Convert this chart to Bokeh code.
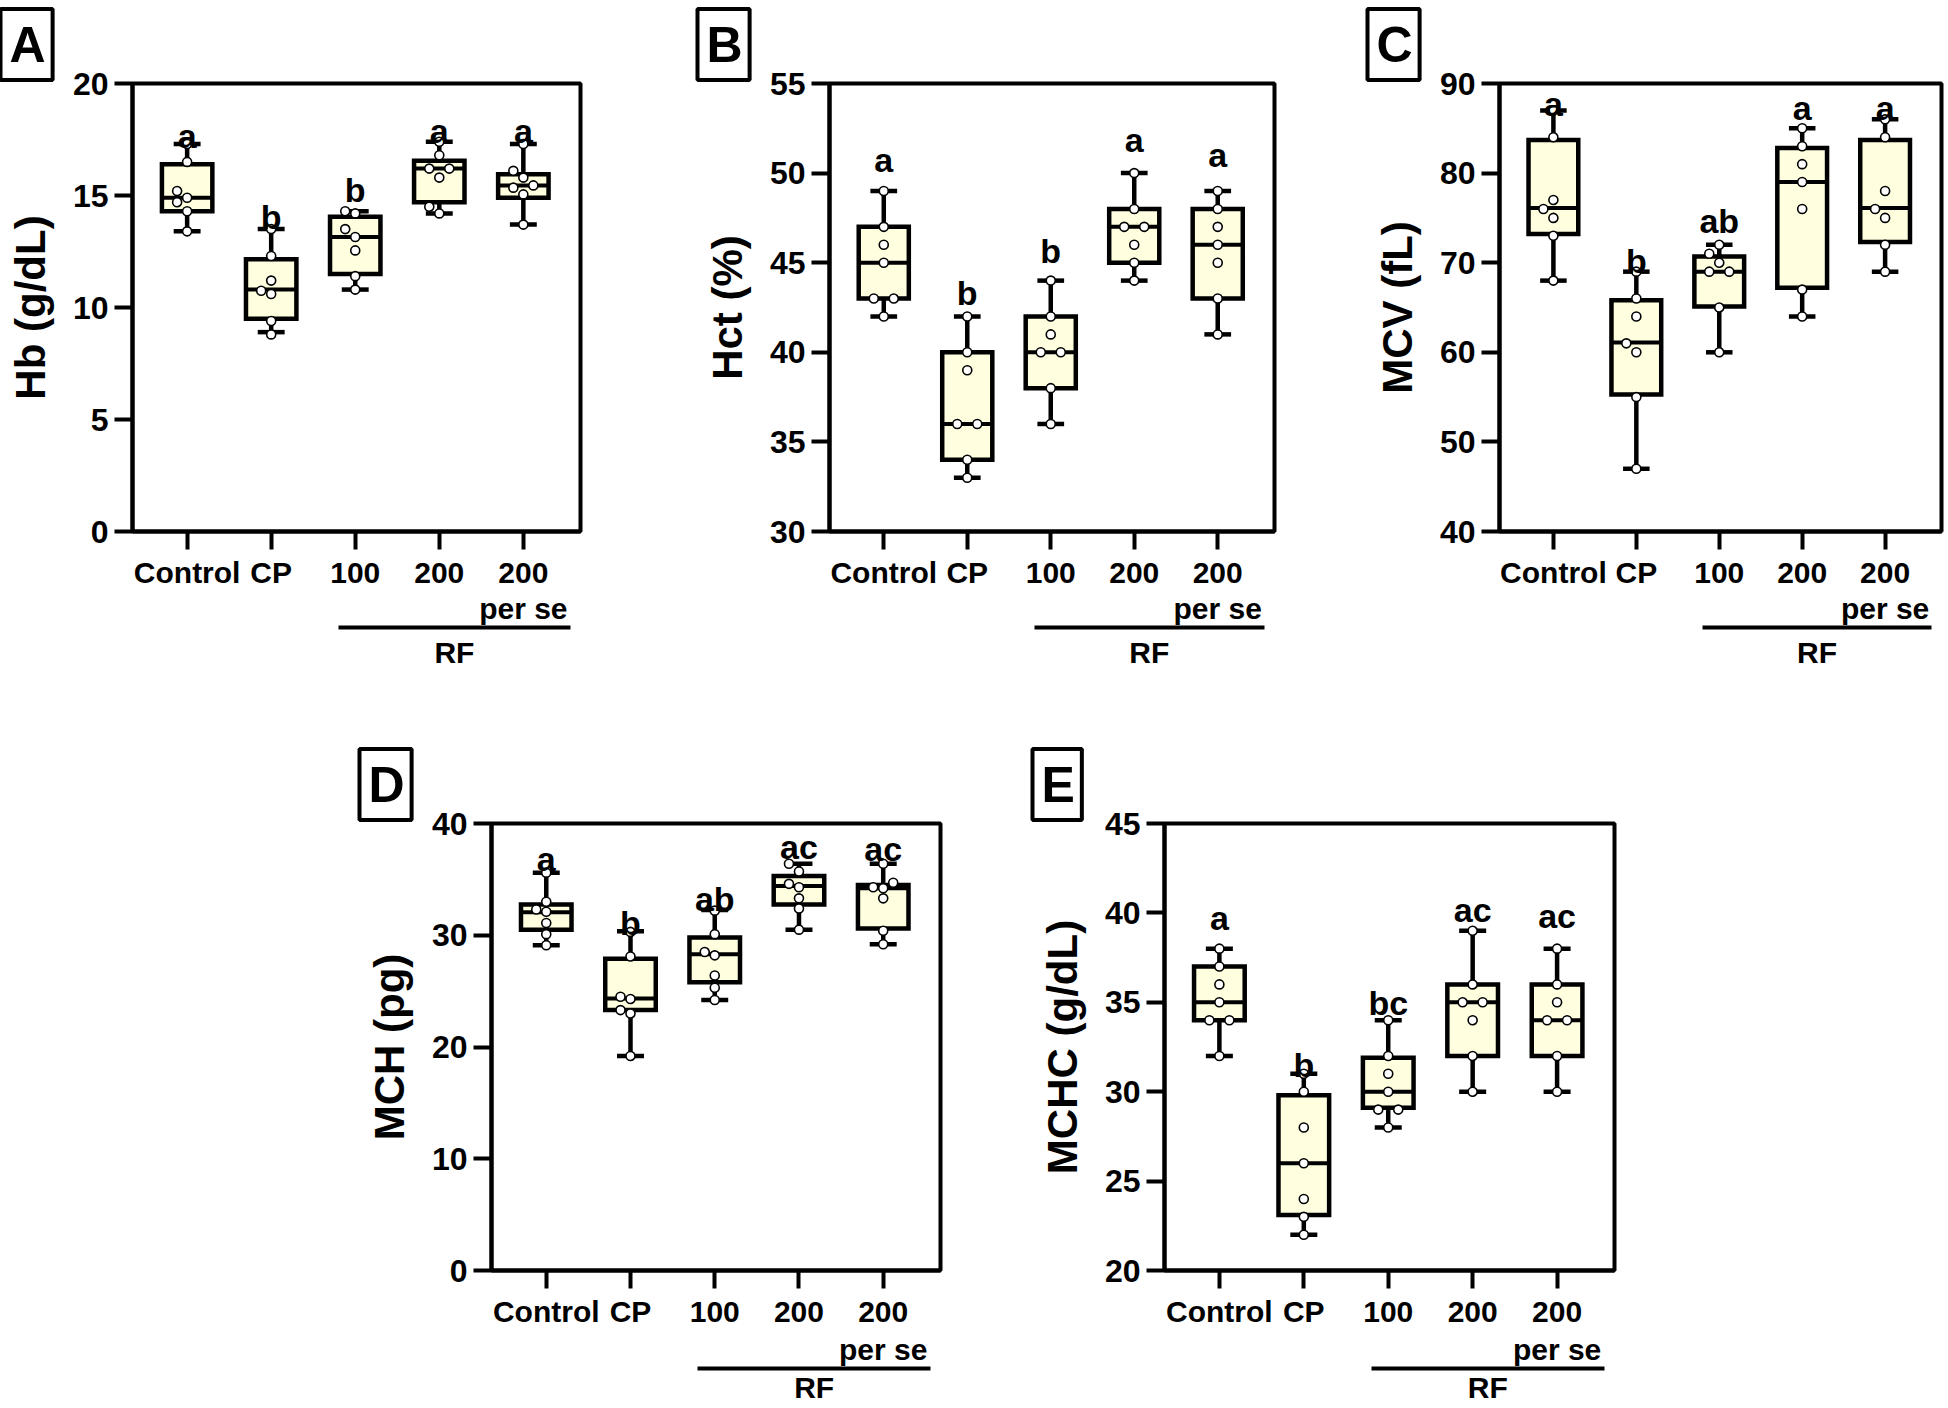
import math
from bokeh.plotting import figure
from bokeh.models import Range1d, LinearAxis, FixedTicker, Title
from bokeh.layouts import row, column
from bokeh.embed import file_html
from bokeh.resources import INLINE
from bokeh.core.properties import value

FONT = "Liberation Sans"

# ---------------- data ----------------
categories = ["Control", "CP", "100", "200", "200"]
sub_label = "per se"
bracket_label = "RF"

# A: Hb
hb_label = "Hb (g/dL)"
hb_ticks = [0, 5, 10, 15, 20]
hb_min = [13.4, 8.9, 10.8, 14.2, 13.7]
hb_q1 = [14.3, 9.5, 11.5, 14.7, 14.9]
hb_med = [14.9, 10.8, 13.15, 16.2, 15.45]
hb_q3 = [16.4, 12.15, 14.05, 16.55, 15.95]
hb_max = [17.3, 13.5, 14.3, 17.4, 17.3]
hb_points = [
    [17.3, 16.5, 15.2, 14.9, 14.7, 14.3, 13.4],
    [13.5, 12.3, 11.2, 10.75, 10.6, 9.4, 8.8],
    [14.3, 14.2, 13.5, 13.15, 12.55, 11.4, 10.8],
    [17.4, 16.8, 16.2, 16.2, 15.8, 14.5, 14.2],
    [17.3, 16.1, 15.8, 15.45, 15.35, 15.05, 13.7],
]
hb_letters = ["a", "b", "b", "a", "a"]
hb_letter_y = [17.67, 14.05, 15.25, 17.87, 17.87]

# B: Hct
hct_label = "Hct (%)"
hct_ticks = [30, 35, 40, 45, 50, 55]
hct_min = [42, 33, 36, 44, 41]
hct_q1 = [43, 34, 38, 45, 43]
hct_med = [45, 36, 40, 47, 46]
hct_q3 = [47, 40, 42, 48, 48]
hct_max = [49, 42, 44, 50, 49]
hct_points = [
    [49, 47, 46, 45, 43, 43, 42],
    [42, 40, 39, 36, 36, 34, 33],
    [44, 42, 41, 40, 40, 38, 36],
    [50, 48, 47, 47, 46, 45, 44],
    [49, 48, 47, 46, 45, 43, 41],
]
hct_letters = ["a", "b", "b", "a", "a"]
hct_letter_y = [50.75, 43.3, 45.65, 51.87, 50.99]

# C: MCV
mcv_label = "MCV (fL)"
mcv_ticks = [40, 50, 60, 70, 80, 90]
mcv_min = [68, 47, 60, 64, 69]
mcv_q1 = [73.2, 55.3, 65.1, 67.2, 72.3]
mcv_med = [76.1, 61.1, 69, 79, 76.1]
mcv_q3 = [83.7, 65.8, 70.7, 82.8, 83.7]
mcv_max = [87, 69, 72, 85, 86]
mcv_points = [
    [87, 84, 77, 76, 75, 73, 68],
    [69, 66, 64, 61, 60, 55, 47],
    [72, 71, 70, 69, 69, 65, 60],
    [85, 83, 81, 79, 76, 67, 64],
    [86, 84, 78, 76, 75, 72, 69],
]
mcv_letters = ["a", "b", "ab", "a", "a"]
mcv_letter_y = [87.7, 70.2, 74.6, 87.3, 87.3]

# D: MCH
mch_label = "MCH (pg)"
mch_ticks = [0, 10, 20, 30, 40]
mch_min = [29.1, 19.2, 24.2, 30.5, 29.2]
mch_q1 = [30.5, 23.3, 25.8, 32.75, 30.6]
mch_med = [32.05, 24.35, 28.3, 34.4, 34.2]
mch_q3 = [32.75, 27.9, 29.8, 35.3, 34.5]
mch_max = [35.6, 30.35, 32.25, 36.4, 36.4]
mch_points = [
    [35.6, 33.0, 32.3, 32.1, 31.1, 30.1, 29.1],
    [30.3, 28.1, 24.5, 24.3, 23.3, 23.0, 19.2],
    [32.2, 30.1, 28.5, 28.2, 26.4, 25.3, 24.2],
    [36.4, 35.7, 34.6, 34.3, 33.3, 32.4, 30.5],
    [36.4, 34.7, 34.3, 34.2, 33.3, 30.4, 29.2],
]
mch_letters = ["a", "b", "ab", "ac", "ac"]
mch_letter_y = [36.8, 31.1, 33.2, 37.9, 37.7]

# E: MCHC
mchc_label = "MCHC (g/dL)"
mchc_ticks = [20, 25, 30, 35, 40, 45]
mchc_min = [32, 22, 28, 30, 30]
mchc_q1 = [34, 23.1, 29.1, 32, 32]
mchc_med = [35, 26, 30, 35, 34]
mchc_q3 = [37, 29.8, 31.9, 36, 36]
mchc_max = [38, 31, 34, 39, 38]
mchc_points = [
    [38, 37, 36, 35, 34, 34, 32],
    [31, 30, 28, 26, 24, 23, 22],
    [34, 32, 31, 30, 29, 29, 28],
    [39, 36, 35, 35, 34, 32, 30],
    [38, 36, 35, 34, 34, 32, 30],
]
mchc_letters = ["a", "b", "bc", "ac", "ac"]
mchc_letter_y = [39.74, 31.5, 34.97, 40.15, 39.8]

# ---------------- styling / layout ----------------
X0, X1 = -0.65, 4.68
FRAME_H = 448
BOX_W = 0.60
CAP_W = 0.32
BOX_FILL = "#FFFFE0"
BRACKET = (1.8, 4.56)
BRACKET_MID = 3.18


def swarm(vals, ppu_y, ppu_x, step=10.0, diam=10.0):
    counts = {}
    for v in vals:
        counts[v] = counts.get(v, 0) + 1
    placed = []
    res = {}
    for v in sorted(counts):
        m = counts[v]
        y = v * ppu_y
        if m == 1:
            cands = [[0.0], [-step], [step], [-2 * step], [2 * step]]
        else:
            base = [(i - (m - 1) / 2.0) * 2 * step for i in range(m)]
            cands = [base, [b - step for b in base], [b + step for b in base]]
        chosen = cands[-1]
        for c in cands:
            if all(math.hypot(dx - px, y - py) >= diam for dx in c for px, py in placed):
                chosen = c
                break
        placed += [(dx, y) for dx in chosen]
        res[v] = [dx / ppu_x for dx in chosen]
    return [res[v].pop(0) for v in vals]


def style_axis(ax):
    ax.axis_line_width = 4
    ax.axis_line_color = "black"
    ax.major_tick_line_width = 4
    ax.major_tick_line_color = "black"
    ax.major_tick_out = 18
    ax.major_tick_in = 0
    ax.minor_tick_line_color = None
    ax.major_label_text_font = FONT
    ax.major_label_text_font_style = "bold"
    ax.major_label_text_font_size = "30px"
    ax.major_label_text_color = "black"


def make_panel(letter, ylabel, yticks, mn, q1, med, q3, mx, points, letters, letter_y,
               w, h, bl, br, bt, bb, spacer, s2, s3):
    y0, y1 = yticks[0], yticks[-1]
    fw = w - bl - br
    p = figure(width=w, height=h, x_range=Range1d(X0, X1), y_range=Range1d(y0, y1),
               x_axis_type=None, y_axis_type=None, output_backend="svg",
               toolbar_location=None, min_border_left=bl, min_border_right=br,
               min_border_top=bt, min_border_bottom=bb)
    p.outline_line_color = "black"
    p.outline_line_width = 4
    p.background_fill_color = "white"
    p.border_fill_color = "white"

    ppu_x = fw / (X1 - X0)
    ppu_y = FRAME_H / (y1 - y0)

    yax = LinearAxis(ticker=FixedTicker(ticks=yticks), axis_label=ylabel)
    style_axis(yax)
    yax.major_label_text_font_size = "32px"
    yax.major_label_standoff = 6
    yax.axis_label_text_font = FONT
    yax.axis_label_text_font_style = "bold"
    yax.axis_label_text_font_size = "42px"
    yax.axis_label_text_color = "black"
    yax.axis_label_standoff = 16
    p.add_layout(yax, "left")

    idx = list(range(len(categories)))
    xax = LinearAxis(ticker=FixedTicker(ticks=idx),
                     major_label_overrides={i: c for i, c in zip(idx, categories)})
    style_axis(xax)
    xax.major_label_standoff = 6
    p.add_layout(xax, "below")

    sax = LinearAxis(ticker=FixedTicker(ticks=[idx[-1]]),
                     major_label_overrides={idx[-1]: sub_label})
    style_axis(sax)
    sax.axis_line_color = None
    sax.major_tick_line_color = None
    sax.major_tick_out = 0
    sax.major_label_standoff = s2
    p.add_layout(sax, "below")

    if spacer > 0:
        gap = LinearAxis(ticker=FixedTicker(ticks=[]))
        style_axis(gap)
        gap.axis_line_color = None
        gap.major_tick_line_color = None
        gap.major_tick_out = spacer
        gap.major_label_standoff = 0
        p.add_layout(gap, "below")

    bax = LinearAxis(ticker=FixedTicker(ticks=[BRACKET_MID]), bounds=BRACKET,
                     major_label_overrides={BRACKET_MID: bracket_label})
    style_axis(bax)
    bax.major_tick_line_color = None
    bax.major_tick_out = 0
    bax.major_label_standoff = s3
    p.add_layout(bax, "below")

    # panel letter in a box
    p.add_layout(Title(text=letter, align="left", vertical_align="bottom", offset=-132,
                       standoff=7, text_font=FONT, text_font_style="bold",
                       text_font_size="50px", text_color="black",
                       border_line_color="black", border_line_width=4,
                       background_fill_color="white", padding=(9, 7, 8, 7)), "above")

    # whiskers
    p.segment(x0=idx, y0=q3, x1=idx, y1=mx, line_color="black", line_width=4.5)
    p.segment(x0=idx, y0=q1, x1=idx, y1=mn, line_color="black", line_width=4.5)
    # boxes
    p.vbar(x=idx, width=BOX_W, bottom=q1, top=q3, fill_color=BOX_FILL,
           line_color="black", line_width=4.5, line_join="miter")
    # medians
    p.segment(x0=[i - BOX_W / 2 for i in idx], y0=med, x1=[i + BOX_W / 2 for i in idx], y1=med,
              line_color="black", line_width=4)
    # caps
    for ys in (mx, mn):
        p.segment(x0=[i - CAP_W / 2 for i in idx], y0=ys, x1=[i + CAP_W / 2 for i in idx], y1=ys,
                  line_color="black", line_width=4.5)
    # points
    xs, ys = [], []
    for i, vals in enumerate(points):
        offs = swarm(vals, ppu_y, ppu_x)
        xs += [i + o for o in offs]
        ys += list(vals)
    p.scatter(x=xs, y=ys, marker="circle", size=9, fill_color="white",
              line_color="black", line_width=1.6)
    # significance letters
    p.text(x=idx, y=letter_y, text=letters, text_align="center", text_baseline="alphabetic",
           text_font=value(FONT), text_font_style="bold", text_font_size="34px",
           text_color="black")
    return p


R1H, R2H = 700, 706
pA = make_panel("A", hb_label, hb_ticks, hb_min, hb_q1, hb_med, hb_q3, hb_max, hb_points,
                hb_letters, hb_letter_y, 690, R1H, 132, 110, 83, 169, 10, 0, 8)
pB = make_panel("B", hct_label, hct_ticks, hct_min, hct_q1, hct_med, hct_q3, hct_max, hct_points,
                hct_letters, hct_letter_y, 670, R1H, 139, 86, 83, 169, 10, 0, 8)
pC = make_panel("C", mcv_label, mcv_ticks, mcv_min, mcv_q1, mcv_med, mcv_q3, mcv_max, mcv_points,
                mcv_letters, mcv_letter_y, 584, R1H, 139, 3, 83, 169, 10, 0, 8)
pD = make_panel("D", mch_label, mch_ticks, mch_min, mch_q1, mch_med, mch_q3, mch_max, mch_points,
                mch_letters, mch_letter_y, 1000, R2H, 491, 60, 123, 135, 3, 2, 2)
pE = make_panel("E", mchc_label, mchc_ticks, mchc_min, mchc_q1, mchc_med, mchc_q3, mchc_max,
                mchc_points, mchc_letters, mchc_letter_y, 644, R2H, 164, 30, 123, 135, 3, 2, 2)

layout = column(row(pA, pB, pC), row(pD, pE))
open("out.html", "w").write(file_html(layout, INLINE))
